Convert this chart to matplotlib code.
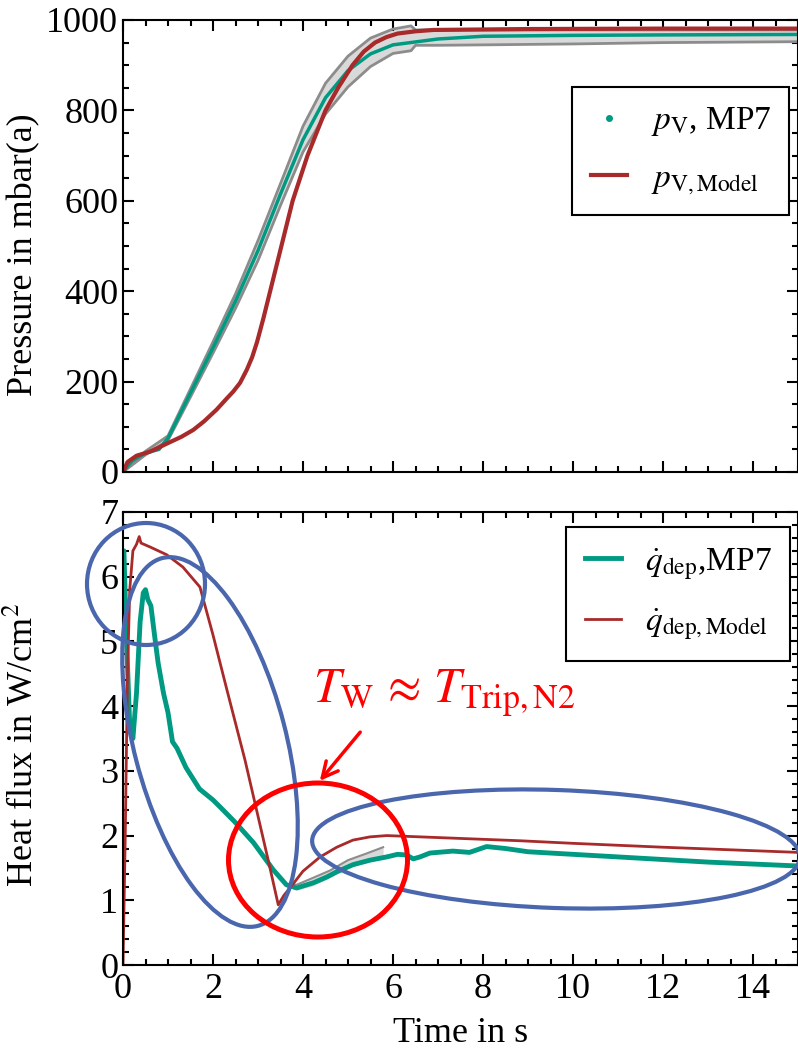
import matplotlib
matplotlib.use("Agg")
import matplotlib.pyplot as plt
from matplotlib.patches import Ellipse, FancyArrowPatch
from matplotlib.lines import Line2D
from matplotlib.ticker import MultipleLocator
from matplotlib.transforms import Affine2D

plt.rcParams["font.family"] = ["Liberation Serif", "DejaVu Serif"]
plt.rcParams["mathtext.fontset"] = "stix"

# ----------------------------------------------------------------------------
# DATA
# ----------------------------------------------------------------------------
# pressure, measured MP7 (mbar)
t_p_mp7 = [0, 0.2, 0.5, 0.8, 1.0, 1.5, 2.0, 2.5, 3.0, 3.5, 4.0, 4.5, 5.0, 5.5,
           6.0, 7.0, 8.0, 10, 12, 15]
p_mp7 = [0, 25, 42, 50, 75, 175, 275, 378, 490, 615, 735, 828, 888, 925,
         945, 958, 964, 966, 967, 968]

# grey band around the measurement
t_p_band = [0, 0.5, 1, 1.5, 2, 2.5, 3, 3.5, 4, 4.5, 5, 5.5, 6, 6.4, 6.5, 7, 8,
            10, 12, 15]
p_band_hi = [0, 46, 80, 184, 288, 394, 512, 638, 765, 860, 920, 960, 980, 987,
             978, 978, 978, 978, 978, 978]
p_band_lo = [0, 38, 70, 166, 263, 362, 468, 590, 708, 792, 852, 897, 926, 932,
             944, 944, 945, 947, 950, 952]

# pressure, model (mbar)
t_p_model = [0, 0.1, 0.3, 0.6, 1.0, 1.3, 1.56, 1.8, 2.08, 2.3, 2.45, 2.6,
             2.75, 2.87, 2.98, 3.12, 3.27, 3.52, 3.77, 4.1, 4.5, 4.78, 5.1,
             5.35, 5.6, 5.85, 6.1, 6.5, 6.9, 9, 12, 15]
p_model = [0, 22, 36, 45, 64, 78, 93, 112, 138, 162, 178, 197,
           226, 254, 288, 340, 400, 500, 600, 700, 800, 850, 900,
           930, 950, 962, 970, 975, 978, 980, 981, 981]

# heat flux, measured MP7 (W/cm2)
t_q_mp7 = [0, 0.02, 0.08, 0.15, 0.22, 0.3, 0.38, 0.45, 0.5, 0.55, 0.62, 0.7,
           0.78, 0.9, 1.0, 1.1, 1.2, 1.4, 1.7, 2.0, 2.16, 2.5, 2.9, 3.34,
           3.63, 3.86, 4.23, 4.53, 4.75, 5.11, 5.49, 5.86, 6.1, 6.3, 6.45,
           6.6, 6.82, 7.33, 7.7, 8.08, 8.5, 9.0, 10, 11, 12, 13, 14, 15]
q_mp7 = [6.4, 6.4, 5.0, 3.7, 3.5, 4.2, 5.3, 5.75, 5.8, 5.65, 5.55, 5.1,
         4.67, 4.2, 3.9, 3.45, 3.35, 3.05, 2.72, 2.55, 2.44, 2.2, 1.89, 1.47,
         1.24, 1.19, 1.27, 1.36, 1.44, 1.55, 1.62, 1.67, 1.71, 1.70, 1.64,
         1.67, 1.73, 1.76, 1.74, 1.83, 1.80, 1.75, 1.71, 1.67, 1.63, 1.59,
         1.56, 1.53]

# grey band on the heat flux measurement
t_q_band = [3.7, 3.86, 4.2, 4.6, 5.0, 5.4, 5.78]
q_band_lo = [1.20, 1.16, 1.22, 1.35, 1.50, 1.59, 1.64]
q_band_hi = [1.25, 1.24, 1.34, 1.46, 1.62, 1.72, 1.82]

# heat flux, model (W/cm2)
t_q_model = [0, 0.05, 0.1, 0.15, 0.22, 0.3, 0.36, 0.4, 0.6, 0.97, 1.33, 1.71,
             2.0, 2.31, 2.71, 3.0, 3.25, 3.45, 3.58, 3.71, 4.0, 4.38, 4.75,
             5.11, 5.49, 5.86, 6.6, 8.82, 10, 12, 15]
q_model = [0, 2.0, 4.5, 5.8, 6.4, 6.5, 6.62, 6.52, 6.46, 6.34, 6.15, 5.84,
           5.1, 4.25, 3.17, 2.3, 1.55, 0.93, 1.08, 1.19, 1.45, 1.67, 1.82,
           1.93, 1.98, 2.0, 1.98, 1.92, 1.88, 1.82, 1.74]

GREEN = "#009A82"
RED = "#A82A2A"
GREY = "#8C8C8C"
BAND = "#D9D9D9"
BLUE = "#4A67AE"
ANNO_RED = "#FF0000"

W_PX, H_PX = 798, 1049

fig = plt.figure(figsize=(W_PX / 100, H_PX / 100), dpi=100)
ax1 = fig.add_axes([123 / W_PX, 1 - 472 / H_PX, 675 / W_PX, 452 / H_PX])
ax2 = fig.add_axes([123 / W_PX, 1 - 965 / H_PX, 675 / W_PX, 453 / H_PX])

# --- top: pressure -----------------------------------------------------------
ax1.fill_between(t_p_band, p_band_lo, p_band_hi, color=BAND, lw=0)
ax1.plot(t_p_band, p_band_hi, color=GREY, lw=2)
ax1.plot(t_p_band, p_band_lo, color=GREY, lw=2)
ax1.plot(t_p_mp7, p_mp7, color=GREEN, lw=2.5)
ax1.plot(t_p_model, p_model, color=RED, lw=3)

ax1.set_xlim(0, 15)
ax1.set_ylim(0, 1000)
ax1.yaxis.set_major_locator(MultipleLocator(200))
ax1.yaxis.set_minor_locator(MultipleLocator(50))
ax1.set_ylabel("Pressure in mbar(a)", fontsize=26)
ax1.yaxis.set_label_coords(-0.122, 0.48)
ax1.tick_params(labelbottom=False)

h1 = [Line2D([], [], color=GREEN, marker="o", ms=4, ls="none"),
      Line2D([], [], color=RED, lw=3)]
leg1 = ax1.legend(h1, [r"$p_\mathrm{V}$, MP7", r"$p_\mathrm{V,Model}$"],
                  loc="upper right", bbox_to_anchor=(0.987, 0.852),
                  fontsize=24, fancybox=False, edgecolor="black",
                  framealpha=1, handlelength=1.1, labelspacing=0.75,
                  borderpad=0.55, handletextpad=0.7, borderaxespad=0)
leg1.get_frame().set_linewidth(1.5)

# --- bottom: heat flux -------------------------------------------------------
ax2.fill_between(t_q_band, q_band_lo, q_band_hi, color=BAND, lw=0)
ax2.plot(t_q_band, q_band_hi, color=GREY, lw=1.5)
ax2.plot(t_q_mp7, q_mp7, color=GREEN, lw=3.5)
ax2.plot(t_q_model, q_model, color=RED, lw=2)

ax2.set_xlim(0, 15)
ax2.set_ylim(0, 7)
ax2.xaxis.set_major_locator(MultipleLocator(2))
ax2.xaxis.set_minor_locator(MultipleLocator(0.5))
ax2.yaxis.set_major_locator(MultipleLocator(1))
ax2.yaxis.set_minor_locator(MultipleLocator(0.2))
ax2.set_xlabel("Time in s", fontsize=26, labelpad=8)
ax2.set_ylabel("Heat flux in W/cm$^2$", fontsize=26)
ax2.yaxis.set_label_coords(-0.122, 0.486)

h2 = [Line2D([], [], color=GREEN, lw=3.5), Line2D([], [], color=RED, lw=2)]
leg2 = ax2.legend(h2, [r"$\dot{q}_\mathrm{dep}$,MP7",
                       r"$\dot{q}_\mathrm{dep,Model}$"],
                  loc="upper right", bbox_to_anchor=(0.988, 0.966),
                  fontsize=24, fancybox=False, edgecolor="black",
                  framealpha=1, handlelength=1.1, labelspacing=0.75,
                  borderpad=0.55, handletextpad=0.7, borderaxespad=0)
leg2.get_frame().set_linewidth(1.5)

ax1.xaxis.set_minor_locator(MultipleLocator(0.5))
ax1.xaxis.set_major_locator(MultipleLocator(2))
for ax in (ax1, ax2):
    ax.tick_params(which="both", direction="in", top=True, right=True,
                   labelsize=26, width=1.5)
    ax.tick_params(which="major", length=8)
    ax.tick_params(which="minor", length=4)
    ax.tick_params(axis="x", pad=6)
    for s in ax.spines.values():
        s.set_linewidth(1.5)

# --- annotations (in picture pixels, origin top-left) -------------------------
px = Affine2D().scale(0.01) + fig.dpi_scale_trans


def ell(xc, yc, w, h, angle, color, lw):
    fig.add_artist(Ellipse((xc, H_PX - yc), w, h, angle=angle, transform=px,
                           fill=False, edgecolor=color, lw=lw, zorder=5))


ell(146, 584, 118, 122, 0, BLUE, 3)
ell(210, 742, 152, 380, 14.6, BLUE, 3)
ell(556, 849, 488, 118, -2, BLUE, 3)
ell(318, 860, 179, 154, 0, ANNO_RED, 3.6)

fig.add_artist(FancyArrowPatch((362, H_PX - 730), (318, H_PX - 783),
                               transform=px, arrowstyle="->",
                               mutation_scale=28, color=ANNO_RED, lw=2.5,
                               zorder=6))
fig.text(313, H_PX - 702, r"$T_\mathrm{W}\,\approx\,T_\mathrm{Trip,N2}$",
         transform=px, color=ANNO_RED, fontsize=35, va="baseline",
         ha="left", zorder=6)

fig.savefig("out.png", dpi=100)
